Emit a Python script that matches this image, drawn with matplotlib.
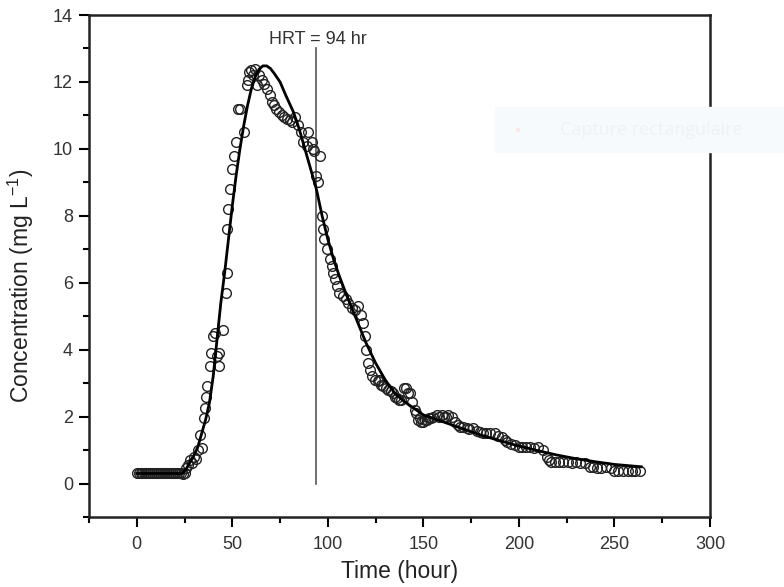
import numpy as np
import matplotlib
matplotlib.use("Agg")
from matplotlib import pyplot as plt
from matplotlib.ticker import MultipleLocator
from matplotlib.patches import Rectangle

# measured concentration (open circles)
time_obs = [0, 1, 2, 3, 4, 5, 6, 7, 8, 9, 10, 11, 12, 13, 14, 15, 16, 17, 18, 19, 20,
            21, 22, 23, 24, 25, 26, 27, 28, 29, 30, 31, 32, 33, 34, 35, 35.5, 36.5, 37,
            38.5, 39, 40, 41, 42, 43, 43, 45, 46.5, 47, 47, 48, 49, 50, 51, 52, 53, 54,
            56, 57.5, 58, 59, 60, 61, 62, 63, 64, 65.4, 66.5, 68, 69.6, 70.6, 72, 73,
            74.5, 76, 77, 78.5, 80, 81, 82.7, 84.5, 86, 87, 89, 89.5, 91.5, 92, 93, 96,
            94, 95, 97, 97.5, 98, 99.5, 101, 102, 102.7, 103.7, 104.6, 106, 108, 109.5,
            110.6, 112.5, 114, 115.8, 117.6, 118.5, 119.5, 120, 121, 122, 123, 124.6,
            126, 127, 128, 129, 130.5, 131.7, 133, 134, 135, 136, 137.5, 138.5, 140,
            141, 142, 143, 144, 145.5, 146, 147, 148, 149, 150, 151, 152, 153, 154, 155,
            157, 158, 160, 161, 162, 163, 165, 166.5, 168, 169, 171, 172.8, 174, 176,
            178, 179.6, 181, 183, 185, 187.4, 189, 191, 192.5, 194, 196, 198, 200,
            201.6, 203.5, 205.8, 208, 210, 212.6, 214.6, 216, 217, 219, 221, 223, 225.6,
            228, 230, 232, 234.6, 237, 239, 241, 243, 245.7, 248, 250, 252, 254.5, 257,
            259, 261, 263.5]
conc_obs = [0.3, 0.3, 0.3, 0.3, 0.3, 0.3, 0.3, 0.3, 0.3, 0.3, 0.3, 0.3, 0.3, 0.3, 0.3,
            0.3, 0.3, 0.3, 0.3, 0.3, 0.3, 0.3, 0.3, 0.3, 0.28, 0.3, 0.45, 0.55, 0.7, 0.62,
            0.78, 0.72, 1.0, 1.45, 1.05, 1.95, 2.25, 2.6, 2.9, 3.5, 3.9, 4.4, 4.5, 3.8,
            3.5, 3.9, 4.6, 5.7, 6.3, 7.6, 8.2, 8.8, 9.4, 9.8, 10.2, 11.2, 11.2, 10.5,
            11.9, 12.07, 12.3, 12.37, 12.2, 12.4, 11.9, 12.2, 12.07, 11.95, 11.8, 11.6,
            11.4, 11.3, 11.2, 11.1, 11.0, 10.95, 10.9, 10.85, 10.8, 10.95, 10.7, 10.5,
            10.2, 10.1, 10.5, 10.2, 10.0, 9.95, 9.8, 9.2, 9.0, 8.0, 7.6, 7.3, 7.0, 6.7,
            6.5, 6.3, 6.1, 5.9, 5.7, 5.6, 5.5, 5.4, 5.25, 5.2, 5.3, 5.05, 4.8, 4.4, 4.0,
            3.6, 3.4, 3.2, 3.1, 3.05, 3.1, 2.95, 2.9, 2.85, 2.8, 2.75, 2.7, 2.6, 2.55,
            2.5, 2.5, 2.85, 2.85, 2.7, 2.7, 2.45, 2.2, 2.1, 1.9, 1.95, 1.85, 1.83, 1.9,
            1.9, 1.95, 1.95, 2.0, 2.05, 2.0, 2.05, 2.0, 2.0, 2.05, 2.0, 1.83, 1.75, 1.7,
            1.68, 1.65, 1.62, 1.65, 1.58, 1.53, 1.5, 1.5, 1.5, 1.5, 1.42, 1.38, 1.3,
            1.23, 1.18, 1.14, 1.1, 1.08, 1.08, 1.08, 1.06, 1.08, 1.0, 0.8, 0.7, 0.63,
            0.63, 0.63, 0.63, 0.63, 0.62, 0.63, 0.62, 0.6, 0.5, 0.48, 0.45, 0.47, 0.5,
            0.45, 0.38, 0.38, 0.38, 0.38, 0.38, 0.38, 0.38]

# fitted model curve
time_fit = [0, 24, 26, 28, 30, 32, 34, 36, 38, 40, 42, 44, 46, 48, 50, 52, 54, 56, 58,
            60, 62, 64, 66, 68, 70, 72, 75, 78, 82, 85, 88, 91, 94, 97, 100, 103, 106,
            110, 115, 120, 125, 130, 135, 140, 145, 150, 160, 170, 180, 190, 200, 210,
            220, 230, 240, 250, 264]
conc_fit = [0.3, 0.3, 0.45, 0.65, 0.85, 1.1, 1.5, 1.9, 2.4, 3.2, 4.3, 5.4, 6.3, 7.3,
            8.3, 9.2, 10.0, 10.7, 11.3, 11.8, 12.15, 12.38, 12.48, 12.48, 12.4, 12.25,
            12.0, 11.6, 11.1, 10.6, 10.0, 9.4, 8.8, 8.0, 7.3, 6.7, 6.2, 5.6, 4.9, 4.2,
            3.6, 3.1, 2.7, 2.45, 2.25, 2.05, 1.85, 1.65, 1.45, 1.28, 1.12, 0.98, 0.85,
            0.74, 0.65, 0.57, 0.5]

hrt = 94
hrt_label = "HRT = 94 hr"

plt.rcParams['font.family'] = ['Liberation Sans', 'DejaVu Sans']

fig = plt.figure(figsize=(7.84, 5.87), dpi=100)
ax = fig.add_axes([0.1135, 0.1193, 0.7921, 0.8551])

ax.plot(time_obs, conc_obs, 'o', markersize=7, markerfacecolor='none',
        markeredgecolor='#222222', markeredgewidth=1.0, zorder=2)
ax.plot(time_fit, conc_fit, '-', color='black', lw=2.0, zorder=3)

ax.plot([hrt, hrt], [0, 13.0], color='#555555', lw=1.2, zorder=1)
ax.text(94.8, 13.12, hrt_label, ha='center', va='baseline', fontsize=13, color='#333333')

ax.set_xlim(-25, 300)
ax.set_ylim(-1, 14)
ax.xaxis.set_major_locator(MultipleLocator(50))
ax.xaxis.set_minor_locator(MultipleLocator(25))
ax.yaxis.set_major_locator(MultipleLocator(2))
ax.yaxis.set_minor_locator(MultipleLocator(1))

ax.tick_params(which='major', direction='out', length=7.5, width=1.5, labelsize=13,
               labelcolor='#333333', top=False, right=False)
ax.tick_params(axis='x', which='major', pad=6)
ax.tick_params(axis='y', which='major', pad=4)
ax.tick_params(which='minor', direction='out', length=4.5, width=1.5, top=False, right=False)
for s in ax.spines.values():
    s.set_linewidth(1.8)
    s.set_color('#222222')

ax.set_xlabel("Time (hour)", fontsize=16.5, color='#222222', labelpad=5)
ax.set_ylabel(r"Concentration (mg L$^{\mathregular{-1}}$)", fontsize=16.5, color='#222222')
ax.yaxis.set_label_coords(-0.085, 0.46)

# faint screen-capture overlay in the source image
fig.patches.append(Rectangle((495 / 784, 1 - 152 / 587), 289 / 784, 45 / 587,
                             transform=fig.transFigure, color='#f7fafd', zorder=5))
fig.text(517 / 784, 1 - 130 / 587, "\u25cf", fontsize=7, color='#f7e9e4',
         ha='center', va='center', zorder=6)
fig.text(560 / 784, 1 - 130 / 587, "Capture rectangulaire", fontsize=13,
         color='#eef1f5', ha='left', va='center', family=['Open Sans', 'DejaVu Sans'],
         zorder=6)

fig.savefig("out.png", dpi=100)
